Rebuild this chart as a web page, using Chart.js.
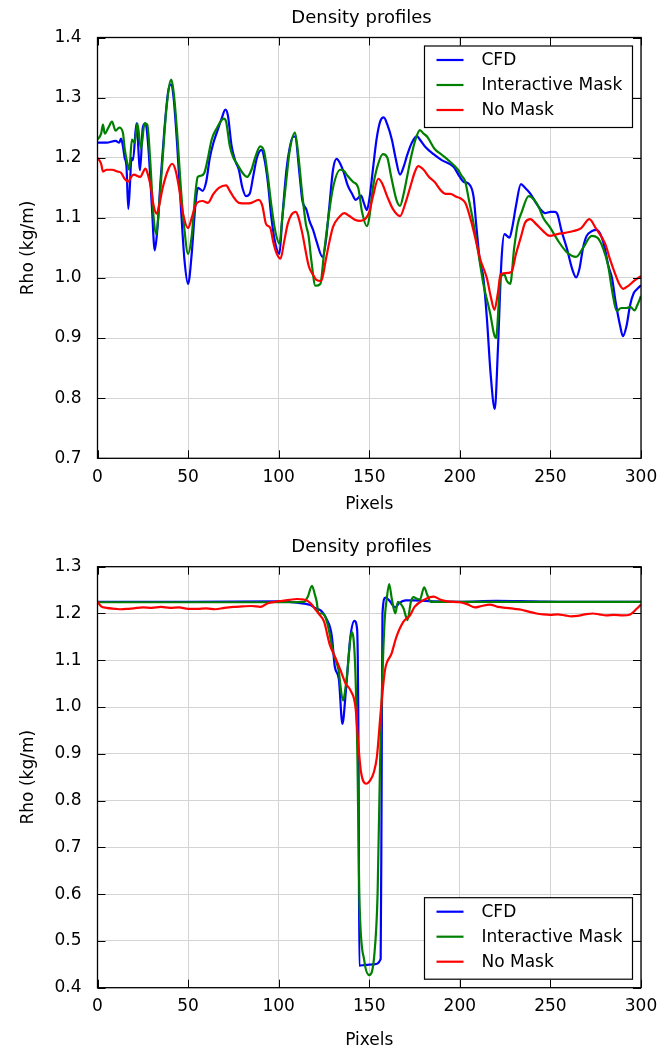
<!DOCTYPE html>
<html>
<head>
<meta charset="utf-8">
<script src="https://cdn.jsdelivr.net/npm/chart.js@4.4.0/dist/chart.umd.min.js"></script>
<style>
  body { margin: 0; background: #fff; }
  canvas { position: absolute; left: 0; }
</style>
</head>
<body>
<canvas id="topChart" width="670" height="525" style="top:0"></canvas>
<canvas id="bottomChart" width="670" height="526" style="top:525px"></canvas>
<script>
// ------------------------- DATA -----------------------

var seriesLabels = ['CFD', 'Interactive Mask', 'No Mask'];
var seriesColors = ['#0000ff', '#008000', '#ff0000'];
var xTicks = [0, 50, 100, 150, 200, 250, 300];

// top panel
var topCfdX = [0, 5, 10, 12, 13, 14, 15, 16, 17, 18, 18.7, 19.6, 21.5, 23.5, 25, 26.5, 28, 30, 31.6, 33, 35, 37, 39, 40.5, 42, 44, 46, 48, 50,
  52, 54, 55.5, 58, 60, 62, 64, 66, 68.5, 70.6, 72, 74, 76, 78, 80, 82, 84, 86, 88, 90.5, 92, 94, 96, 98, 100.4,
  102, 104.3, 106, 108, 109, 111.6, 113, 115.4, 117, 119, 121, 124.2, 126, 128, 130, 132, 134, 136, 138, 140.5, 142.5, 145.5, 147, 148.7,
  150, 152, 154, 156, 158, 160, 162.5, 164.5, 167, 169, 171, 173.5, 176.3, 178, 181, 185.5, 190, 196.5, 200,
  202, 204.8, 207.6, 209, 211, 213, 215, 217, 219.3, 221, 223, 224.6, 226, 227.4, 229, 231, 233.7, 236, 239, 242, 244.3, 247, 250,
  252.5, 254, 256, 259, 262, 264.2, 266, 268, 270, 273, 275.6, 278, 280, 282, 284, 286, 288.5, 290, 292, 294, 296, 298, 300];
var topCfdY = [1.225, 1.225, 1.228, 1.225, 1.232, 1.22, 1.2, 1.185, 1.115, 1.16, 1.2, 1.196, 1.257, 1.179, 1.25, 1.257, 1.22, 1.12, 1.046, 1.08, 1.17, 1.25, 1.31, 1.322, 1.3, 1.22, 1.12, 1.03, 0.99,
  1.04, 1.12, 1.15, 1.145, 1.16, 1.2, 1.225, 1.243, 1.265, 1.28, 1.27, 1.22, 1.195, 1.18, 1.15, 1.136, 1.14, 1.17, 1.2, 1.213, 1.2, 1.16, 1.1, 1.06, 1.04,
  1.1, 1.18, 1.215, 1.235, 1.235, 1.17, 1.13, 1.113, 1.095, 1.08, 1.06, 1.035, 1.06, 1.12, 1.18, 1.198, 1.19, 1.175, 1.155, 1.14, 1.13, 1.137, 1.125, 1.113,
  1.13, 1.18, 1.23, 1.26, 1.267, 1.255, 1.23, 1.2, 1.172, 1.185, 1.205, 1.225, 1.236, 1.23, 1.218, 1.206, 1.196, 1.185, 1.168,
  1.16, 1.157, 1.135, 1.09, 1.03, 1.0, 0.93, 0.84, 0.782, 0.88, 1.03, 1.073, 1.07, 1.067, 1.085, 1.12, 1.156, 1.15, 1.14, 1.125, 1.115, 1.108, 1.11,
  1.11, 1.105, 1.08, 1.05, 1.015, 1.001, 1.015, 1.05, 1.07, 1.078, 1.08, 1.07, 1.05, 1.02, 1.0, 0.96, 0.92, 0.903, 0.92, 0.955, 0.975, 0.982, 0.988];

var topMaskX = [0, 2, 3, 4, 6, 8, 10, 12, 14, 15, 16.5, 17.5, 19, 20.5, 22, 24, 26, 27.5, 29, 31, 32.5, 34, 36, 38, 40.7, 42, 44, 46, 48, 50,
  52, 54, 55.3, 57, 59, 61, 63, 66, 69.7, 71, 73, 75, 77, 80, 82.6, 85, 87, 89.8, 92, 94, 96, 98, 100.4,
  102, 104.3, 106, 109, 111, 113, 115, 116.5, 118, 120.3, 123, 125, 127, 130, 134, 136, 138, 141, 143.9, 146, 148.7,
  150, 152, 154, 157.6, 160, 162, 165, 167, 169, 171, 173, 175.5, 178, 180, 182, 186, 190, 194, 199,
  201, 203, 205, 207, 210.3, 213, 216.8, 219, 220, 221.5, 222.3, 224.5, 226, 227.8, 230, 232, 234.2, 238, 241, 244, 246, 249.6,
  254.2, 259, 264.2, 268, 272.8, 276, 279, 281.9, 284, 286.6, 289, 292, 294, 296.5, 298, 300];
var topMaskY = [1.23, 1.24, 1.255, 1.24, 1.25, 1.26, 1.245, 1.25, 1.242, 1.215, 1.19, 1.18, 1.23, 1.225, 1.257, 1.215, 1.257, 1.255, 1.2, 1.1, 1.073, 1.12, 1.2, 1.28, 1.33, 1.31, 1.24, 1.15, 1.08, 1.04,
  1.07, 1.14, 1.168, 1.17, 1.175, 1.2, 1.23, 1.25, 1.265, 1.26, 1.22, 1.2, 1.19, 1.175, 1.168, 1.18, 1.2, 1.219, 1.21, 1.17, 1.12, 1.08, 1.057,
  1.1, 1.165, 1.21, 1.242, 1.2, 1.14, 1.09, 1.07, 1.03, 0.987, 0.99, 1.04, 1.09, 1.15, 1.18, 1.178, 1.17, 1.16, 1.15, 1.11, 1.086,
  1.1, 1.15, 1.18, 1.206, 1.2, 1.17, 1.13, 1.12, 1.14, 1.17, 1.2, 1.23, 1.246, 1.24, 1.235, 1.215, 1.205, 1.195, 1.18,
  1.17, 1.16, 1.13, 1.1, 1.04, 0.99, 0.94, 0.905, 0.9, 0.96, 1.0, 1.006, 0.995, 0.99, 1.05, 1.09, 1.11, 1.136, 1.13, 1.115, 1.1, 1.085,
  1.062, 1.043, 1.035, 1.05, 1.07, 1.067, 1.05, 1.02, 0.98, 0.945, 0.95, 0.95, 0.952, 0.946, 0.955, 0.97];

var topNoMaskX = [0, 2, 3, 5, 8, 11, 13, 15, 17, 18.5, 20, 23.5, 26.5, 28, 29.5, 31, 32.7, 34, 36, 39, 41.2, 43, 45, 47, 50,
  52, 54, 55, 58, 61, 64, 67, 71, 73, 75, 78, 82, 85, 89, 91, 93, 95.4, 97, 99, 101,
  103, 105, 107, 109.5, 111, 113, 116.6, 119, 120.8, 123.5, 126, 128, 130, 133, 136.3, 139, 142, 145, 147.8,
  150, 152, 155, 157, 160, 163, 167, 170, 173, 175, 177, 180, 183, 186, 189.7, 192, 194.7, 198, 200,
  203, 206.2, 208.5, 211.2, 214.9, 217, 219.1, 221, 222.5, 225, 228.5, 231, 233.6, 236, 239, 242, 246, 249.6,
  254, 258, 262.7, 267, 271.5, 275, 280.2, 283, 285.7, 288, 290.2, 293, 296.5, 300];
var topNoMaskY = [1.2, 1.19, 1.177, 1.18, 1.18, 1.177, 1.175, 1.165, 1.16, 1.168, 1.172, 1.168, 1.182, 1.17, 1.15, 1.12, 1.107, 1.12, 1.15, 1.18, 1.19, 1.18, 1.15, 1.11, 1.083,
  1.1, 1.12, 1.125, 1.128, 1.125, 1.14, 1.15, 1.154, 1.145, 1.135, 1.125, 1.124, 1.125, 1.13, 1.12, 1.09, 1.083, 1.06, 1.04, 1.032,
  1.06, 1.09, 1.105, 1.11, 1.1, 1.075, 1.02, 1.005, 0.997, 0.995, 1.03, 1.06, 1.085, 1.1, 1.108, 1.103, 1.097, 1.095, 1.098,
  1.11, 1.135, 1.165, 1.158, 1.135, 1.115, 1.103, 1.125, 1.155, 1.175, 1.186, 1.18, 1.168, 1.16, 1.145, 1.14, 1.14, 1.135, 1.133,
  1.125, 1.095, 1.067, 1.032, 1.0, 0.97, 0.947, 0.975, 1.006, 1.008, 1.01, 1.04, 1.067, 1.092, 1.098, 1.09, 1.078, 1.07,
  1.073, 1.075, 1.078, 1.083, 1.098, 1.083, 1.057, 1.03, 1.007, 0.99, 0.982, 0.987, 0.996, 1.003];

// bottom panel
var botCfdX = [0, 50, 100, 110, 117.5, 120, 123, 125, 126.7, 128.3, 129.4, 131, 133.2, 135.2, 137, 139.6, 141.8, 143.3, 144.1, 144.5,
  148, 152.7, 156.3, 156.8, 157.3, 158.9, 161, 164.4, 166.5, 170, 175.2, 185, 200, 220, 240, 260, 300];
var botCfdY = [1.225, 1.225, 1.226, 1.223, 1.218, 1.212, 1.207, 1.198, 1.186, 1.171, 1.15, 1.086, 1.06, 0.964, 1.03, 1.15, 1.184, 1.166, 0.886, 0.447,
  0.449, 0.45, 0.461, 0.8, 1.2, 1.234, 1.228, 1.213, 1.222, 1.228, 1.228, 1.226, 1.225, 1.227, 1.226, 1.225, 1.225];

var botMaskX = [0, 50, 100, 114, 116, 118.4, 120, 121, 122, 124, 125.5, 127.4, 130.3, 133, 135.5, 137.5, 140.4, 142.2, 143.5, 144.5,
  147.3, 150, 152.8, 154.6, 156, 158.3, 159.8, 161, 162.5, 164.4, 165.8, 167.5, 169, 171.1, 173, 174.5, 176, 178, 180.3, 182, 184, 200, 300];
var botMaskY = [1.224, 1.224, 1.224, 1.225, 1.235, 1.259, 1.24, 1.225, 1.2, 1.2, 1.195, 1.17, 1.114, 1.08, 1.014, 1.06, 1.16, 1.09, 0.886, 0.6,
  0.457, 0.427, 0.47, 0.6, 0.886, 1.171, 1.236, 1.263, 1.23, 1.2, 1.225, 1.22, 1.21, 1.186, 1.225, 1.235, 1.232, 1.23, 1.256, 1.24, 1.225, 1.225, 1.225];

var botNoMaskX = [0, 2, 5, 10, 13, 17, 20, 25, 30, 35, 40, 45, 50, 55, 60, 65, 70, 75, 80, 85, 90, 94, 98, 102, 106, 110, 113, 115,
  118, 120, 122, 125, 128.3, 131, 134, 137, 139.6, 142.4, 144.1, 145.5, 148.3, 150.5, 152.5, 154.2, 156.4, 158.7, 162.3, 165, 168.8,
  172.5, 175, 180.1, 185.6, 189, 193, 200, 204, 208.4, 212, 216.6, 221, 225.8, 230, 234, 238, 242.3, 246, 249.8, 254, 258, 261.5,
  265, 269, 273.5, 277, 280.9, 285, 290, 294, 297.6, 300];
var botNoMaskY = [1.225, 1.215, 1.212, 1.21, 1.209, 1.21, 1.211, 1.213, 1.212, 1.214, 1.212, 1.213, 1.21, 1.21, 1.211, 1.209, 1.212, 1.214, 1.215, 1.216, 1.214, 1.222, 1.225, 1.227, 1.229, 1.231, 1.23, 1.229,
  1.22, 1.21, 1.2, 1.183, 1.132, 1.108, 1.08, 1.05, 1.036, 1.0, 0.914, 0.86, 0.836, 0.843, 0.86, 0.893, 0.993, 1.079, 1.114, 1.15, 1.182,
  1.196, 1.214, 1.229, 1.236, 1.23, 1.226, 1.224, 1.22, 1.213, 1.216, 1.219, 1.214, 1.212, 1.21, 1.208, 1.204, 1.2, 1.198, 1.197, 1.198, 1.196, 1.194,
  1.195, 1.198, 1.2, 1.198, 1.196, 1.197, 1.196, 1.198, 1.21, 1.219];

// ------------------------- HELPERS -------------------------------------------

var FONT = 'DejaVu Sans';

// zip two arrays into {x, y} points
function toPoints(xs, ys) {
  var pts = [];
  for (var i = 0; i < xs.length; i++) {
    pts.push({ x: xs[i], y: ys[i] });
  }
  return pts;
}

// frame + inward ticks on all four sides, like matplotlib
var framePlugin = {
  id: 'frame',
  afterDatasetsDraw: function(chart) {
    var ctx = chart.ctx, a = chart.chartArea;
    var tl = 8;
    ctx.save();
    ctx.strokeStyle = '#000';
    ctx.lineWidth = 1;
    ctx.beginPath();
    chart.scales.x.ticks.forEach(function(t) {
      var px = Math.round(chart.scales.x.getPixelForValue(t.value)) + 0.5;
      ctx.moveTo(px, a.bottom); ctx.lineTo(px, a.bottom - tl);
      ctx.moveTo(px, a.top); ctx.lineTo(px, a.top + tl);
    });
    chart.scales.y.ticks.forEach(function(t) {
      var py = Math.round(chart.scales.y.getPixelForValue(t.value)) + 0.5;
      ctx.moveTo(a.left, py); ctx.lineTo(a.left + tl, py);
      ctx.moveTo(a.right, py); ctx.lineTo(a.right - tl, py);
    });
    ctx.stroke();
    ctx.lineWidth = 1.3;
    ctx.strokeRect(a.left, a.top, a.right - a.left, a.bottom - a.top);
    ctx.restore();
  }
};

// title over the plot, and the boxed legend inside the plot
var decorPlugin = {
  id: 'decor',
  afterDraw: function(chart, args, opts) {
    var ctx = chart.ctx, a = chart.chartArea;
    ctx.save();
    ctx.fillStyle = '#000';
    ctx.font = '18px "' + FONT + '"';
    ctx.textAlign = 'center';
    ctx.textBaseline = 'alphabetic';
    ctx.fillText(opts.title, 361.5, a.top - 14.8);

    var w = 208, h = 81.5, m = 8.5;
    var bx = a.right - m - w;
    var by = opts.legendPos === 'lower right' ? a.bottom - m - h : a.top + m;
    ctx.fillStyle = '#fff';
    ctx.fillRect(bx, by, w, h);
    ctx.strokeStyle = '#000';
    ctx.lineWidth = 1.2;
    ctx.strokeRect(bx, by, w, h);

    ctx.font = '17px "' + FONT + '"';
    ctx.textAlign = 'left';
    ctx.textBaseline = 'middle';
    chart.data.datasets.forEach(function(ds, i) {
      var ry = by + 14 + i * 25;
      ctx.strokeStyle = ds.borderColor;
      ctx.lineWidth = 2.2;
      ctx.beginPath();
      ctx.moveTo(bx + 12, ry); ctx.lineTo(bx + 39, ry);
      ctx.stroke();
      ctx.fillStyle = '#000';
      ctx.fillText(ds.label, bx + 57, ry + 1);
    });
    ctx.restore();
  }
};

// ------------------------- CHART -------------------------------------------

function makeChart(id, xsList, ysList, yMin, yMax, padTop, xAxisHeight, xTitlePad, legendPos) {
  var datasets = [];
  for (var i = 0; i < xsList.length; i++) {
    datasets.push({
      label: seriesLabels[i],
      data: toPoints(xsList[i], ysList[i]),
      borderColor: seriesColors[i],
      backgroundColor: seriesColors[i],
      borderWidth: 2.2,
      pointRadius: 0,
      fill: false,
      cubicInterpolationMode: 'monotone',
      order: xsList.length - i   // last series drawn on top
    });
  }
  var tickFont = { family: FONT, size: 17 };
  return new Chart(document.getElementById(id), {
    type: 'line',
    data: { datasets: datasets },
    options: {
      responsive: false,
      animation: false,
      layout: { padding: { top: padTop, right: 29, left: 0, bottom: 0 } },
      plugins: {
        legend: { display: false },
        tooltip: { enabled: false },
        decor: { title: 'Density profiles', legendPos: legendPos }
      },
      scales: {
        x: {
          type: 'linear', min: 0, max: 300,
          afterBuildTicks: function(s) { s.ticks = xTicks.map(function(v) { return { value: v }; }); },
          ticks: { color: '#000', font: tickFont, padding: 9, maxRotation: 0, autoSkip: false },
          grid: { color: '#d4d4d4', lineWidth: 1, drawTicks: false },
          border: { display: false },
          title: { display: true, text: 'Pixels', color: '#000', font: tickFont, padding: { top: 0, bottom: xTitlePad } },
          afterFit: function(s) { s.height = xAxisHeight; }
        },
        y: {
          min: yMin, max: yMax,
          ticks: { stepSize: 0.1, color: '#000', font: tickFont, padding: 16,
                   callback: function(v) { return v.toFixed(1); } },
          grid: { color: '#d4d4d4', lineWidth: 1, drawTicks: false },
          border: { display: false },
          title: { display: true, text: 'Rho (kg/m)', color: '#000', font: tickFont, padding: { top: 18, bottom: 0 } },
          afterFit: function(s) { s.width = 97.5; }
        }
      }
    },
    plugins: [framePlugin, decorPlugin]
  });
}

makeChart('topChart', [topCfdX, topMaskX, topNoMaskX], [topCfdY, topMaskY, topNoMaskY],
  0.7, 1.4, 37.5, 66.7, 10, 'upper right');
makeChart('bottomChart', [botCfdX, botMaskX, botNoMaskX], [botCfdY, botMaskY, botNoMaskY],
  0.4, 1.3, 41.7, 63.3, 0, 'lower right');
</script>
</body>
</html>
